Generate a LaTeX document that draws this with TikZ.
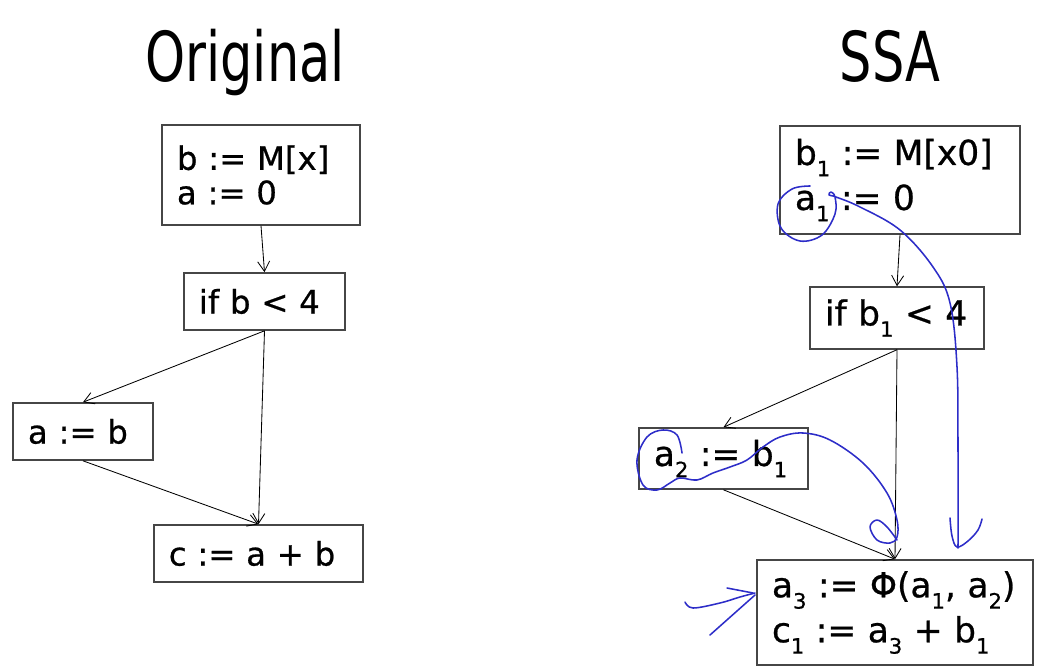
\documentclass[tikz,border=0pt]{standalone}
\usepackage{fontspec}
\setmainfont[FakeBold=0.7]{DejaVu Sans}
\newfontfamily\titlefont[FakeStretch=0.74]{DejaVu Sans}
\usetikzlibrary{arrows.meta}
\definecolor{penblue}{RGB}{45,45,200}
\definecolor{boxline}{RGB}{70,70,70}
\newcommand{\ix}[1]{\raisebox{-0.6ex}{\fontsize{15}{15}\selectfont #1}}

\begin{document}
\begin{tikzpicture}[x=0.025cm,y=-0.025cm,
  title/.style={font=\titlefont\fontsize{49}{49}\selectfont,anchor=base},
  blk/.style={draw=boxline,line width=1pt,inner xsep=0.375cm,inner ysep=0pt,align=left},
  orig/.style={blk,font=\fontsize{23}{24.5}\selectfont},
  ssa/.style={blk,font=\fontsize{24.5}{32}\selectfont},
  arr/.style={-{Straight Barb[length=0.25cm,width=0.3cm]},line width=0.6pt},
  pen/.style={penblue,line width=1.1pt,line cap=round,line join=round}]
\useasboundingbox (0,0) rectangle (1038,668);

% titles
\node[title] (tori) at (245,82) {Original};
\node[title] (tssa) at (890,82) {SSA};

% original program
\node[orig,text width=4.2cm,minimum height=2.5cm] (o1) at (261,175) {b := M[x]\\a := 0};
\node[orig,text width=3.28cm,minimum height=1.43cm] (o2) at (264.5,301.5) {if b < 4};
\node[orig,text width=2.75cm,minimum height=1.43cm] (o3) at (83,431.5) {a := b};
\node[orig,text width=4.48cm,minimum height=1.43cm] (o4) at (258.5,553.5) {c := a + b};
\draw[arr] (o1.south) -- (o2.north);
\draw[arr] (o2.south) -- (o3.north);
\draw[arr] (o2.south) -- (o4.north);
\draw[arr] (o3.south) -- (o4.north);

% SSA form
\node[ssa,text width=5.25cm,minimum height=2.7cm] (s1) at (900,180) {b\ix{1} := M[x0]\\a\ix{1} := 0};
\node[ssa,text width=3.6cm,minimum height=1.55cm] (s2) at (897,318) {if b\ix{1} < 4};
\node[ssa,text width=3.48cm,minimum height=1.53cm] (s3) at (723.5,458.5) {a\ix{2} := b\ix{1}};
\node[ssa,text width=6.15cm,minimum height=2.63cm] (s4) at (895,612.5) {a\ix{3} := Φ(a\ix{1}, a\ix{2})\\c\ix{1} := a\ix{3} + b\ix{1}};
\draw[arr] (s1.south) -- (s2.north);
\draw[arr] (s2.south) -- (s3.north);
\draw[arr] (s2.south) -- (s4.north);
\draw[arr] (s3.south) -- (s4.north);

% pen marks
\draw[pen] plot[smooth,tension=0.6] coordinates {(810,186) (792,189) (778,204) (781,228) (800,241) (822,235) (835,214) (835,197) (831,192) (829,195) (836,197) (860,207) (900,230) (933,267) (950,303) (957,367) (958,450) (958,548)};
\draw[pen] plot[smooth,tension=0.6] coordinates {(950,518) (952,536) (957,547) (968,541) (978,530) (982,519)};
\draw[pen] plot[smooth,tension=0.6] coordinates {(682,453) (677,435) (663,430) (647,437) (637,460) (643,485) (657,490) (670,483) (680,478) (697,480) (713,473) (730,467) (747,460) (763,447) (780,437) (803,433) (830,440) (863,463) (887,493) (897,520) (897,537) (890,543) (877,540) (870,527) (877,520) (887,527) (897,540)};
\draw[pen] plot[smooth,tension=0.6] coordinates {(685,602) (693,608) (720,603) (740,597) (755,593)};
\draw[pen] (727,588) -- (753,593);
\draw[pen] (710,635) -- (755,595);
\end{tikzpicture}
\end{document}
